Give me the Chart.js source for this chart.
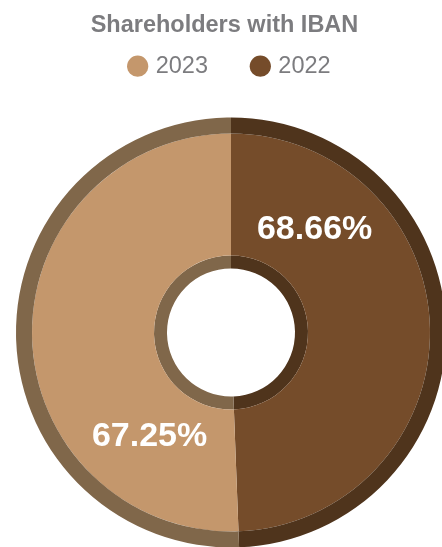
<!DOCTYPE html>
<html>
<head>
<meta charset="utf-8">
<script src="https://cdn.jsdelivr.net/npm/chart.js@4.4.0/dist/chart.umd.min.js"></script>
<style>
  html, body { margin: 0; padding: 0; background: #fff; overflow: hidden; }
  #wrap { position: relative; width: 462px; height: 577px; }
</style>
</head>
<body>
<div id="wrap"><canvas id="graph"></canvas></div>
<script>
// data
const years = ['2022', '2023'];
const sliceShare = [49.4, 50.6];         // share of the ring each year takes
const ibanPercent = ['68.66', '67.25'];  // printed on the slices

const mainColors = ['#754c2a', '#c4976c'];
const bandColors = ['#4f341c', '#80674a'];
const greyText = '#7c7c7f';
const fontFamily = '"Liberation Sans", Arial, Helvetica, sans-serif';

// writes the percentages on the middle ring
const pctLabels = {
    id: 'pctLabels',
    afterDatasetsDraw(chart) {
        const meta = chart.getDatasetMeta(1);
        const ctx = chart.ctx;
        ctx.save();
        ctx.font = 'bold 34px ' + fontFamily;
        ctx.fillStyle = '#ffffff';
        ctx.textAlign = 'center';
        ctx.textBaseline = 'middle';
        meta.data.forEach((arc, i) => {
            const p = arc.getProps(['x', 'y', 'startAngle', 'endAngle', 'innerRadius', 'outerRadius']);
            const a = p.startAngle + 0.22 * (p.endAngle - p.startAngle);
            const r = p.innerRadius + 0.455 * (p.outerRadius - p.innerRadius);
            ctx.fillText(ibanPercent[i] + '%', p.x + r * Math.cos(a), p.y + r * Math.sin(a));
        });
        ctx.restore();
    }
};

const ctx = document.getElementById('graph').getContext('2d');
const myChart = new Chart(ctx, {
    type: 'doughnut',
    data: {
        labels: years,
        datasets: [
            { data: sliceShare, backgroundColor: bandColors, borderWidth: 0, weight: 16 },
            { data: sliceShare, backgroundColor: mainColors, borderWidth: 0, weight: 122 },
            { data: sliceShare, backgroundColor: bandColors, borderWidth: 0, weight: 13 }
        ]
    },
    options: {
        responsive: true,
        maintainAspectRatio: false,
        animation: false,
        events: [],
        radius: 215,
        cutout: '29.77%',
        plugins: {
            tooltip: { enabled: false },
            title: {
                display: true,
                text: 'Shareholders with IBAN\u00a0\u00a0',
                color: greyText,
                font: { family: fontFamily, size: 23.5, weight: 'bold' },
                padding: { top: 11.2, bottom: -30.95 }
            },
            legend: {
                position: 'top',
                reverse: true,
                labels: {
                    color: greyText,
                    font: { family: fontFamily, size: 23.5 },
                    usePointStyle: true,
                    pointStyle: 'circle',
                    boxHeight: 15,
                    boxWidth: 12.6,
                    padding: 46,
                    generateLabels: chart => chart.data.labels.map((label, i) => ({
                        text: label,
                        fillStyle: mainColors[i],
                        strokeStyle: mainColors[i],
                        lineWidth: 0,
                        fontColor: greyText,
                        pointStyle: 'circle',
                        hidden: false,
                        index: i
                    }))
                }
            }
        }
    },
    plugins: [pctLabels]
});
</script>
</body>
</html>
